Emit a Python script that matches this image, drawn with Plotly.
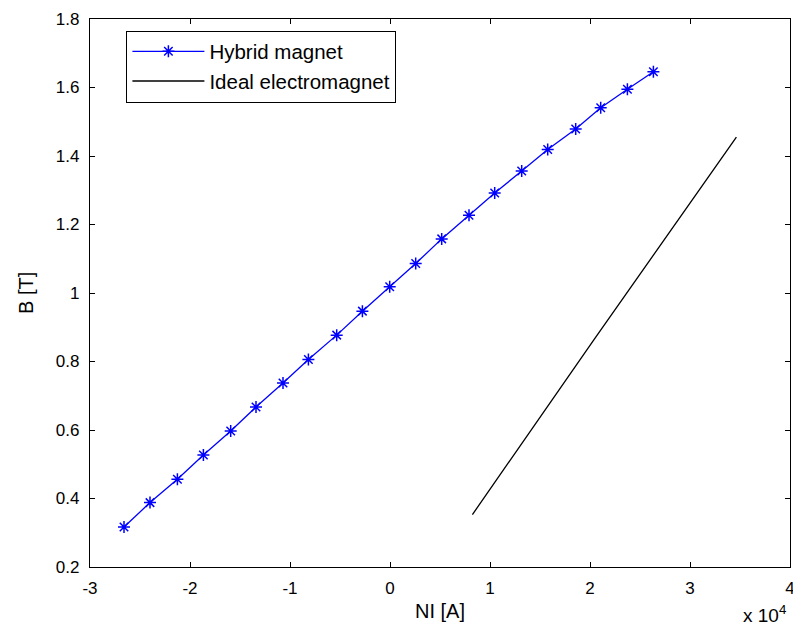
import plotly.graph_objects as go

# Hybrid magnet: NI [A] vs B [T]
hybrid_ni = [-26600, -24000, -21260, -18660, -15930, -13400, -10700, -8160,
             -5330, -2760, -30, 2570, 5170, 7900, 10470, 13170, 15770, 18570,
             21070, 23740, 26340]
hybrid_b = [0.317, 0.388, 0.456, 0.527, 0.597, 0.667, 0.737, 0.806, 0.877,
            0.947, 1.018, 1.086, 1.158, 1.227, 1.292, 1.356, 1.419, 1.479,
            1.541, 1.595, 1.646]

# Ideal electromagnet
ideal_ni = [8240, 20400, 34640]
ideal_b = [0.353, 0.864, 1.455]

x_tickvals = [-30000, -20000, -10000, 0, 10000, 20000, 30000, 40000]
x_ticktext = ["-3", "-2", "-1", "0", "1", "2", "3", "4"]
y_tickvals = [0.2, 0.4, 0.6, 0.8, 1.0, 1.2, 1.4, 1.6, 1.8]
y_ticktext = ["0.2", "0.4", "0.6", "0.8", "1", "1.2", "1.4", "1.6", "1.8"]

FONT = "Liberation Sans, Arial, sans-serif"

fig = go.Figure()
fig.add_trace(go.Scatter(
    x=hybrid_ni, y=hybrid_b, mode="lines+markers", name="Hybrid magnet",
    line=dict(color="#0000ff", width=1.3),
    marker=dict(symbol="asterisk-open", size=10, color="#0000ff",
                line=dict(color="#0000ff", width=1.5)),
))
fig.add_trace(go.Scatter(
    x=ideal_ni, y=ideal_b, mode="lines", name="Ideal electromagnet",
    line=dict(color="black", width=1.3),
))

axis_common = dict(
    showline=True, linecolor="black", linewidth=1.3, mirror="ticks",
    ticks="inside", ticklen=5, tickcolor="black", tickwidth=1,
    showgrid=False, zeroline=False, automargin=False,
    ticklabeloverflow="allow",
    tickfont=dict(family=FONT, size=17, color="black"),
)

fig.update_layout(
    width=793, height=628,
    margin=dict(l=90, r=3, t=19, b=61),
    paper_bgcolor="white", plot_bgcolor="white",
    font=dict(family=FONT, color="black"),
    xaxis=dict(range=[-30000, 40000], tickvals=x_tickvals, ticktext=x_ticktext,
               ticklabelstandoff=5, **axis_common),
    yaxis=dict(range=[0.2, 1.8], tickvals=y_tickvals, ticktext=y_ticktext,
               ticklabelstandoff=6, **axis_common),
    legend=dict(x=0.052, y=0.979, xanchor="left", yanchor="top",
                bordercolor="black", borderwidth=1, bgcolor="white",
                font=dict(family=FONT, size=20.5), itemwidth=72,
                tracegroupgap=0),
    showlegend=True,
)

# axis titles
fig.add_annotation(xref="paper", yref="paper", x=0.5, y=-0.080,
                   xanchor="center", yanchor="middle", showarrow=False,
                   text="NI [A]", font=dict(family=FONT, size=20, color="black"))
fig.add_annotation(xref="paper", yref="paper", x=-0.0914, y=0.5,
                   xanchor="center", yanchor="middle", showarrow=False,
                   textangle=-90,
                   text="B [T]", font=dict(family=FONT, size=20, color="black"))
fig.add_annotation(xref="paper", yref="paper", x=0.997, y=-0.086,
                   xanchor="right", yanchor="middle", showarrow=False,
                   text="x 10<sup>4</sup>",
                   font=dict(family=FONT, size=19, color="black"))

fig.write_html("out.html",
               config={"displayModeBar": False},
               post_script="document.body.style.margin='0';"
                           "document.body.style.overflow='hidden';")
